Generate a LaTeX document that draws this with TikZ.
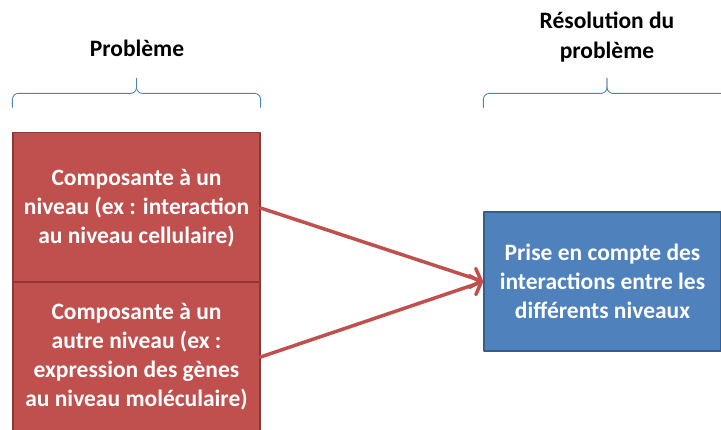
\documentclass[tikz,border=0pt]{standalone}
\usepackage{fontspec}
\setmainfont{Carlito}
\usetikzlibrary{arrows.meta}
\definecolor{boxred}{HTML}{C0504D}
\definecolor{boxredline}{HTML}{8C3836}
\definecolor{boxblue}{HTML}{4F81BD}
\definecolor{boxblueline}{HTML}{385D8A}
\begin{document}
\begin{tikzpicture}[x=1pt,y=-1pt, line join = round, line cap = round,>={Straight Barb[length=9pt,width=20pt,line cap=round]}]
	\tikzset{box style/.style={draw, line width=1.2pt, text=white, font=\fontsize{23.5}{29}\selectfont\bfseries, align=center, inner sep=0pt},
	title style/.style={font=\fontsize{23.5}{30}\selectfont\bfseries, align=center},
	brace style/.style={draw=boxblue, line width=0.9pt, rounded corners=6pt}}
	\useasboundingbox (0,0) rectangle (721,430);
	\clip (0,0) rectangle (721,430);
	\node[box style, fill=boxred, draw=boxredline, minimum width=247pt, minimum height=151pt] (top) at (136.5,208) {Composante à un\\niveau (ex : interaction\\au niveau cellulaire)};
	\node[box style, fill=boxred, draw=boxredline, minimum width=247pt, minimum height=150pt] (bot) at (136.5,357) {Composante à un\\autre niveau (ex :\\expression des gènes\\au niveau moléculaire)};
	\node[box style, fill=boxblue, draw=boxblueline, minimum width=237pt, minimum height=139pt] (res) at (602.5,281.5) {Prise en compte des\\interactions entre les\\différents niveaux};
	\node[title style] (probl) at (137,48) {Problème};
	\node[title style] (resol) at (607,37) {Résolution du\\problème};
	% accolades
	\draw[brace style] ([yshift=24.5pt]top.north west) |- ([yshift=38.5pt]top.north) -- ([yshift=53.5pt]top.north);
	\draw[brace style] ([yshift=24.5pt]top.north east) |- ([yshift=38.5pt]top.north) -- ([yshift=53.5pt]top.north);
	\draw[brace style] ([yshift=104pt]res.north west) |- ([xshift=4.5pt,yshift=118pt]res.north) -- ([xshift=4.5pt,yshift=133pt]res.north);
	\draw[brace style] ([xshift=10pt,yshift=104pt]res.north east) |- ([xshift=4.5pt,yshift=118pt]res.north) -- ([xshift=4.5pt,yshift=133pt]res.north);
	% fleches
	\draw[->, boxred, line width=3.5pt] (top.east) -- (res.west);
	\draw[->, boxred, line width=3.5pt] (bot.east) -- (res.west);
\end{tikzpicture}
\end{document}
